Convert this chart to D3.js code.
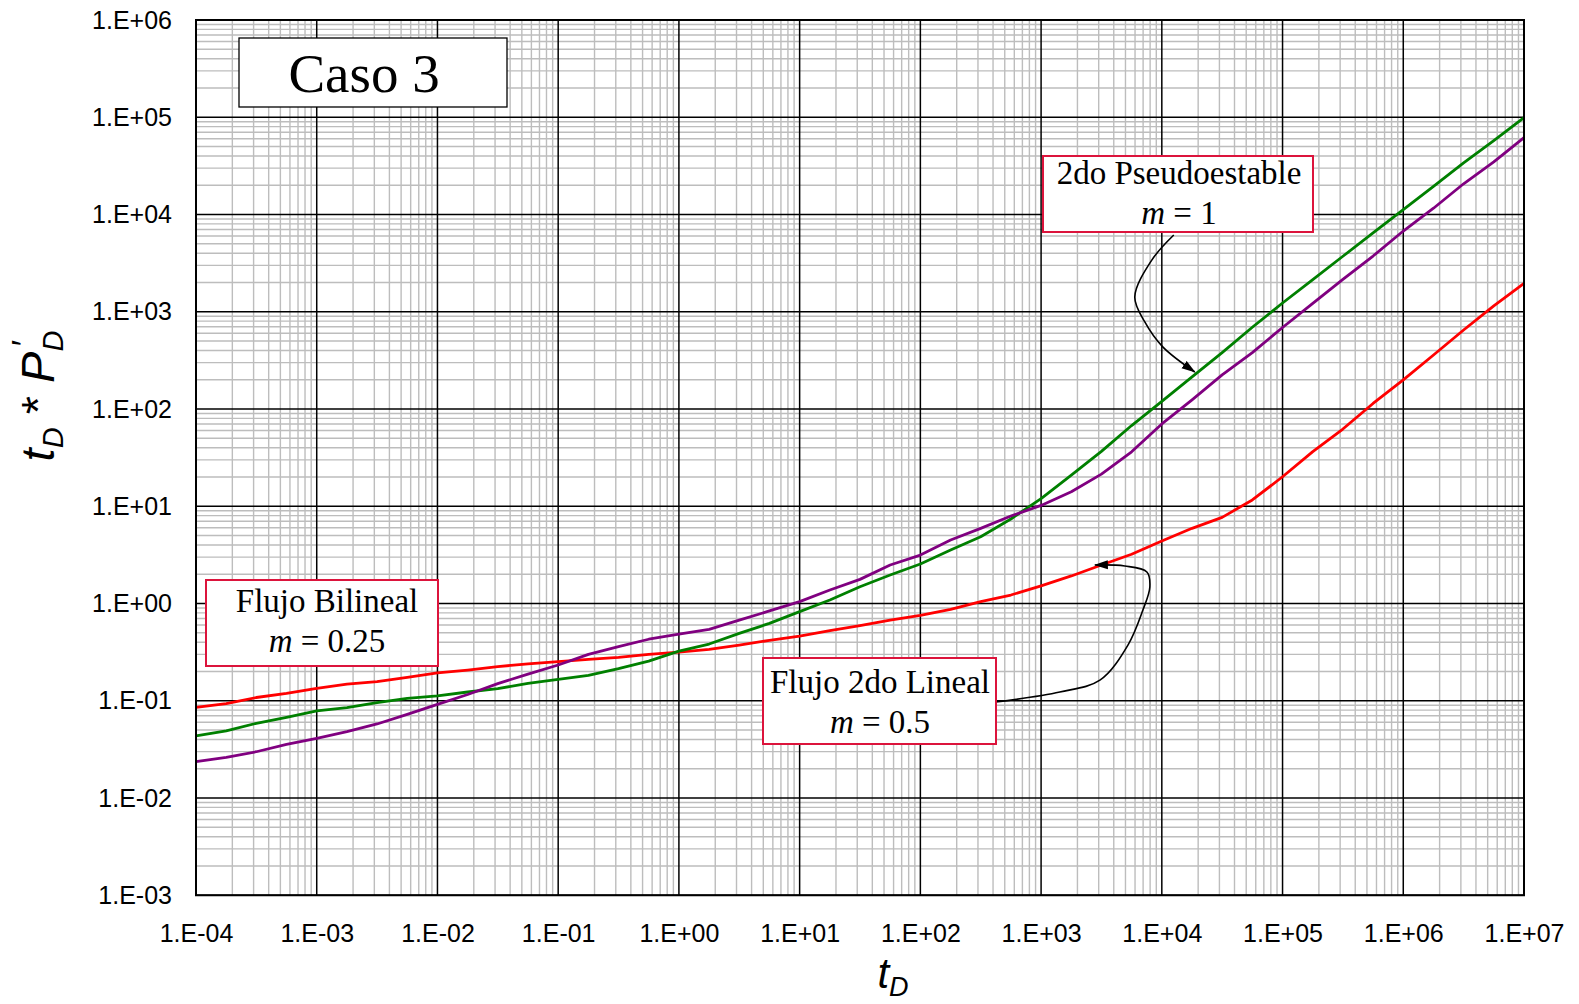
<!DOCTYPE html>
<html>
<head>
<meta charset="utf-8">
<script src="https://cdn.jsdelivr.net/npm/d3@7"></script>
<style>
  html, body { margin: 0; padding: 0; background: #fff; }
  svg { display: block; }
</style>
</head>
<body>
<svg id="chart" width="1579" height="1004"></svg>
<script>
// Dimensionless time samples (quarter-decade steps)
const tD = [
  1e-4, 1.78e-4, 3.16e-4, 5.62e-4,
  1e-3, 1.78e-3, 3.16e-3, 5.62e-3,
  1e-2, 1.78e-2, 3.16e-2, 5.62e-2,
  1e-1, 1.78e-1, 3.16e-1, 5.62e-1,
  1e0, 1.78e0, 3.16e0, 5.62e0,
  1e1, 1.78e1, 3.16e1, 5.62e1,
  1e2, 1.78e2, 3.16e2, 5.62e2,
  1e3, 1.78e3, 3.16e3, 5.62e3,
  1e4, 1.78e4, 3.16e4, 5.62e4,
  1e5, 1.78e5, 3.16e5, 5.62e5,
  1e6, 1.78e6, 3.16e6, 5.62e6,
  1e7
];

// t_D * P'_D derivative curves
const seriesRed = [
  0.0855, 0.0933, 0.108, 0.119,
  0.134, 0.148, 0.157, 0.174,
  0.193, 0.207, 0.224, 0.240,
  0.252, 0.267, 0.279, 0.300,
  0.316, 0.337, 0.374, 0.418,
  0.463, 0.525, 0.592, 0.676,
  0.755, 0.871, 1.045, 1.222,
  1.52, 1.92, 2.49, 3.21,
  4.40, 5.93, 7.69, 11.6,
  20.1, 36.4, 62.2, 114,
  199, 359, 649, 1150,
  1960
];
const seriesGreen = [
  0.0435, 0.0489, 0.0586, 0.0676,
  0.0785, 0.0849, 0.0955, 0.106,
  0.112, 0.123, 0.133, 0.151,
  0.166, 0.182, 0.214, 0.256,
  0.324, 0.383, 0.493, 0.625,
  0.824, 1.086, 1.489, 1.963,
  2.547, 3.548, 4.864, 7.396,
  12.0, 20.9, 36.7, 67.6,
  120, 214, 380, 692,
  1230, 2140, 3720, 6460,
  11200, 19500, 33900, 57500,
  98900
];
const seriesPurple = [
  0.0237, 0.0262, 0.0299, 0.0356,
  0.0411, 0.0481, 0.0577, 0.0724,
  0.0918, 0.116, 0.150, 0.188,
  0.233, 0.300, 0.360, 0.429,
  0.484, 0.542, 0.676, 0.838,
  1.045, 1.377, 1.770, 2.489,
  3.148, 4.498, 5.929, 7.943,
  10.2, 14.1, 21.4, 36.3,
  70.2, 124, 224, 380,
  689, 1220, 2150, 3740,
  6760, 11600, 20700, 34700,
  61700
];

// Axis ticks and labels
const xTicks = [1e-4, 1e-3, 1e-2, 1e-1, 1e0, 1e1, 1e2, 1e3, 1e4, 1e5, 1e6, 1e7];
const xTickLabels = ["1.E-04", "1.E-03", "1.E-02", "1.E-01", "1.E+00", "1.E+01",
                     "1.E+02", "1.E+03", "1.E+04", "1.E+05", "1.E+06", "1.E+07"];
const yTicks = [1e-3, 1e-2, 1e-1, 1e0, 1e1, 1e2, 1e3, 1e4, 1e5, 1e6];
const yTickLabels = ["1.E-03", "1.E-02", "1.E-01", "1.E+00", "1.E+01",
                     "1.E+02", "1.E+03", "1.E+04", "1.E+05", "1.E+06"];

// Callout leader lines, in data coordinates [tD, value]
const leaderPseudo = [[12560, 6150], [8260, 3400], [5970, 1420], [7230, 785], [10180, 435], [18750, 240]];
const leaderLineal = [[422, 0.097], [1430, 0.123], [3070, 0.163], [5240, 0.374], [6970, 0.857],
                      [7960, 1.48], [7520, 2.11], [4940, 2.43], [2790, 2.49]];

const svg = d3.select("#chart");
const L = 196, R = 1524, T = 20, B = 895.25;

const x = d3.scaleLog().domain([1e-4, 1e7]).range([L, R]);
const y = d3.scaleLog().domain([1e-3, 1e6]).range([B, T]);

// ---- grid ----
const minorX = [], minorY = [];
for (let e = -4; e < 7; e++) for (let k = 2; k <= 9; k++) minorX.push(k * Math.pow(10, e));
for (let e = -3; e < 6; e++) for (let k = 2; k <= 9; k++) minorY.push(k * Math.pow(10, e));

const grid = svg.append("g");
grid.selectAll("line.hmin").data(minorY).enter().append("line")
  .attr("x1", L).attr("x2", R).attr("y1", d => y(d)).attr("y2", d => y(d))
  .attr("stroke", "#bdbdbd").attr("stroke-width", 1.4);
grid.selectAll("line.vmin").data(minorX).enter().append("line")
  .attr("y1", T).attr("y2", B).attr("x1", d => x(d)).attr("x2", d => x(d))
  .attr("stroke", "#bdbdbd").attr("stroke-width", 1.4);
grid.selectAll("line.hmaj").data(yTicks).enter().append("line")
  .attr("x1", L).attr("x2", R).attr("y1", d => y(d)).attr("y2", d => y(d))
  .attr("stroke", "#000").attr("stroke-width", 1.5);
grid.selectAll("line.vmaj").data(xTicks).enter().append("line")
  .attr("y1", T).attr("y2", B).attr("x1", d => x(d)).attr("x2", d => x(d))
  .attr("stroke", "#000").attr("stroke-width", 1.5);

// ---- curves ----
const lineGen = d3.line().x(d => x(d[0])).y(d => y(d[1]));
const curves = [
  { values: seriesRed, color: "#ff0000" },
  { values: seriesGreen, color: "#008000" },
  { values: seriesPurple, color: "#800080" }
];
svg.append("g").selectAll("path").data(curves).enter().append("path")
  .attr("d", c => lineGen(tD.map((t, i) => [t, c.values[i]])))
  .attr("fill", "none").attr("stroke", c => c.color).attr("stroke-width", 2.8)
  .attr("stroke-linejoin", "round");

// plot border
svg.append("rect").attr("x", L).attr("y", T).attr("width", R - L).attr("height", B - T)
  .attr("fill", "none").attr("stroke", "#000").attr("stroke-width", 2);

// ---- axes ----
const axFont = "'Liberation Sans', Arial, sans-serif";
const yAxis = svg.append("g").attr("transform", `translate(${L},0)`)
  .call(d3.axisLeft(y).tickValues(yTicks).tickFormat((d, i) => yTickLabels[i]).tickSize(0).tickPadding(24));
const xAxis = svg.append("g").attr("transform", `translate(0,${B})`)
  .call(d3.axisBottom(x).tickValues(xTicks).tickFormat((d, i) => xTickLabels[i]).tickSize(0).tickPadding(29));
[yAxis, xAxis].forEach(a => {
  a.select(".domain").remove();
  a.selectAll("text").attr("font-family", axFont).attr("font-size", 25).attr("fill", "#000");
});

// axis titles
const xt = svg.append("text").attr("x", 893).attr("y", 988)
  .attr("text-anchor", "middle").attr("font-family", axFont).attr("font-style", "italic")
  .attr("font-size", 42).attr("fill", "#000");
xt.append("tspan").text("t");
xt.append("tspan").attr("font-size", 27).attr("dy", 8).text("D");

const yt = svg.append("text").attr("transform", "translate(54,396) rotate(-90)")
  .attr("text-anchor", "middle").attr("font-family", axFont).attr("font-style", "italic")
  .attr("font-size", 47).attr("fill", "#000");
yt.append("tspan").text("t");
yt.append("tspan").attr("font-size", 29).attr("dy", 9).text("D");
yt.append("tspan").attr("dy", -9).attr("font-style", "normal").text(" * ");
yt.append("tspan").text("P");
yt.append("tspan").attr("font-size", 29).attr("dy", 9).text("D");
yt.append("tspan").attr("font-size", 34).attr("dx", -17).attr("dy", -28).text("\u2032");

// ---- callout leaders ----
const defs = svg.append("defs");
defs.append("marker").attr("id", "arrowhead").attr("markerUnits", "userSpaceOnUse")
  .attr("viewBox", "0 -5 14 10").attr("refX", 13).attr("refY", 0)
  .attr("markerWidth", 14).attr("markerHeight", 10).attr("orient", "auto")
  .append("path").attr("d", "M0,-4.5L14,0L0,4.5Z").attr("fill", "#000");

const leaderGen = d3.line().x(d => x(d[0])).y(d => y(d[1])).curve(d3.curveCatmullRom.alpha(0.5));
[leaderPseudo, leaderLineal].forEach(pts => {
  svg.append("path").attr("d", leaderGen(pts)).attr("fill", "none")
    .attr("stroke", "#000").attr("stroke-width", 1.6).attr("marker-end", "url(#arrowhead)");
});

// ---- text boxes ----
const serif = "'Liberation Serif', 'Times New Roman', serif";
function box(x0, y0, w, h, stroke, sw) {
  svg.append("rect").attr("x", x0).attr("y", y0).attr("width", w).attr("height", h)
    .attr("fill", "#fff").attr("stroke", stroke).attr("stroke-width", sw);
}
function twoLine(cx, y1, y2, title, mval) {
  svg.append("text").attr("x", cx).attr("y", y1).attr("text-anchor", "middle")
    .attr("font-family", serif).attr("font-size", 33).attr("fill", "#000").text(title);
  const t = svg.append("text").attr("x", cx).attr("y", y2).attr("text-anchor", "middle")
    .attr("font-family", serif).attr("font-size", 33).attr("fill", "#000");
  t.append("tspan").attr("font-style", "italic").text("m");
  t.append("tspan").text(" = " + mval);
}

box(239, 38, 268, 69, "#000", 1.3);
svg.append("text").attr("x", 364).attr("y", 92).attr("text-anchor", "middle")
  .attr("font-family", serif).attr("font-size", 55).attr("fill", "#000").text("Caso 3");

const callColor = "#dc143c";
box(1043, 156, 270, 76, callColor, 2);
twoLine(1179, 184, 224, "2do Pseudoestable", "1");

box(206, 580, 232, 86, callColor, 2);
twoLine(327, 612, 652, "Flujo Bilineal", "0.25");

box(763, 658, 233, 86, callColor, 2);
twoLine(880, 693, 733, "Flujo 2do Lineal", "0.5");
</script>
</body>
</html>
